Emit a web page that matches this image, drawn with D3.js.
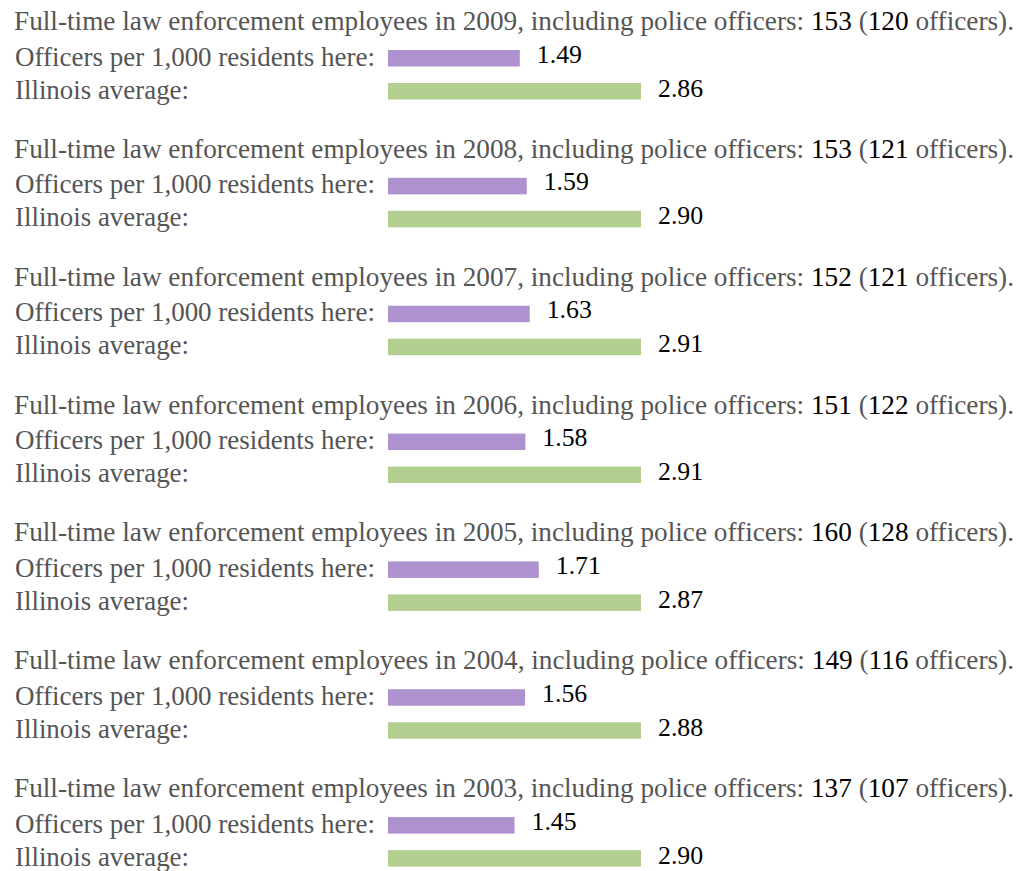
<!DOCTYPE html>
<meta charset="utf-8">
<style>
  body { margin: 0; background: #fff; }
</style>
<body>
</body>

<script src="https://d3js.org/d3.v7.min.js"></script>
<script>

// chart values, newest year first
var years = [2009, 2008, 2007, 2006, 2005, 2004, 2003];
var employees = [153, 153, 152, 151, 160, 149, 137];
var officers = [120, 121, 121, 122, 128, 116, 107];
var hereRate = [1.49, 1.59, 1.63, 1.58, 1.71, 1.56, 1.45];
var stateRate = [2.86, 2.90, 2.91, 2.91, 2.87, 2.88, 2.90];

var width = 1032, height = 871;
var fontSize = 27.2;
var numSize = 25.8;
var grey = "#555555";
var purple = "#ae91cf";
var green = "#b3cf90";

var svg = d3.select("body").append("svg")
  .attr("width", width)
  .attr("height", height)
  .attr("font-family", "Liberation Serif, Times New Roman, serif");

// one band per year block
var blockY = d3.scaleBand()
  .domain(years)
  .range([0, 7 * 127.85]);

var barLeft = 388, barMax = 253, barH = 16.5;

// pin each string to the width it has in the source
function fit(sel, len) {
  sel.attr("textLength", len).attr("lengthAdjust", "spacingAndGlyphs");
}

years.forEach(function(year, i) {
  var g = svg.append("g")
    .attr("transform", "translate(0," + blockY(year) + ")");

  // each block is scaled to its own largest value
  var x = d3.scaleLinear()
    .domain([0, Math.max(hereRate[i], stateRate[i])])
    .range([0, barMax]);

  var head = g.append("text")
    .attr("x", 14)
    .attr("y", 30)
    .attr("font-size", fontSize)
    .attr("fill", grey);
  head.append("tspan").text("Full-time law enforcement employees in " + year + ", including police officers: ");
  head.append("tspan").attr("fill", "#000").text(employees[i]);
  head.append("tspan").text(" (");
  head.append("tspan").attr("fill", "#000").text(officers[i]);
  head.append("tspan").text(" officers).");
  fit(head, 1000);

  var rows = [
    {label: "Officers per 1,000 residents here:", len: 360, value: hereRate[i], color: purple, y: 50, base: 62.5},
    {label: "Illinois average:", len: 174, value: stateRate[i], color: green, y: 83, base: 96.5}
  ];

  rows.forEach(function(r) {
    fit(g.append("text")
      .attr("x", 15)
      .attr("y", r.y + 15.5)
      .attr("font-size", fontSize)
      .attr("fill", grey)
      .text(r.label), r.len);

    g.append("rect")
      .attr("x", barLeft)
      .attr("y", r.y)
      .attr("width", x(r.value))
      .attr("height", barH)
      .attr("fill", r.color);

    g.append("text")
      .attr("x", barLeft + x(r.value) + 17)
      .attr("y", r.base)
      .attr("font-size", numSize)
      .attr("fill", "#000")
      .text(r.value.toFixed(2));
  });
});

</script>
